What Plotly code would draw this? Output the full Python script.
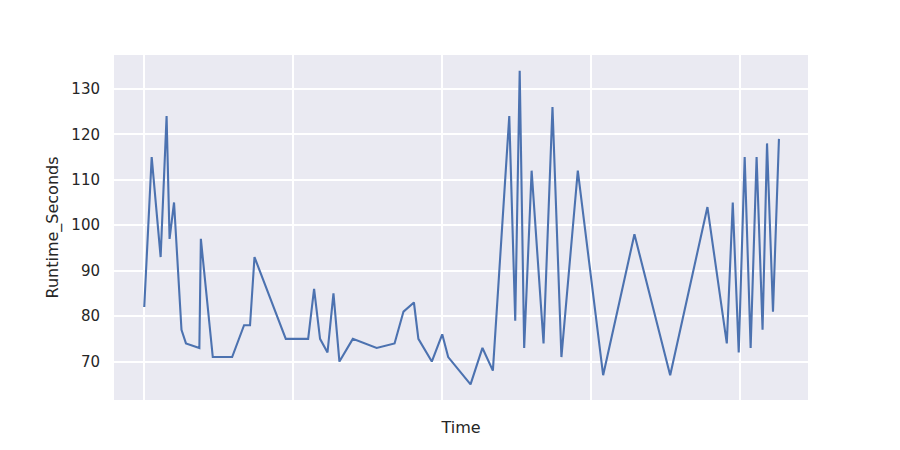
import plotly.graph_objects as go

# day offset from the first run (x axis shows no tick labels)
time_days = [0, 5, 11, 15, 17, 20, 25, 28, 37, 38,
             46, 59, 67, 71, 74, 95, 110, 114, 118, 123,
             127, 131, 140, 156, 168, 174, 181, 184, 193, 200,
             204, 219, 227, 234, 245, 249, 252, 255, 260, 268,
             274, 280, 291, 308, 329, 353, 378, 391, 395, 399,
             403, 407, 411, 415, 418, 422, 426]

runtime_seconds = [82, 115, 93, 124, 97, 105, 77, 74, 73, 97,
                   71, 71, 78, 78, 93, 75, 75, 86, 75, 72,
                   85, 70, 75, 73, 74, 81, 83, 75, 70, 76,
                   71, 65, 73, 68, 124, 79, 134, 73, 112, 74,
                   126, 71, 112, 67, 98, 67, 104, 74, 105, 72,
                   115, 73, 115, 77, 118, 81, 119]

y_ticks = [70, 80, 90, 100, 110, 120, 130]
x_grid = [0, 100, 200, 300, 400]

text_color = "#262626"

fig = go.Figure()

fig.add_trace(go.Scatter(x=time_days, y=runtime_seconds,
                         mode="lines",
                         line=dict(color="#4C72B0", width=2.1),
                         showlegend=False))

fig.update_layout(
    width=900, height=450,
    paper_bgcolor="white",
    plot_bgcolor="#EAEAF2",
    margin=dict(l=106, r=100, t=47, b=58),
    font=dict(family="DejaVu Sans", color=text_color, size=14),
)

fig.update_xaxes(
    range=[-20.3, 445.5],
    tickvals=x_grid, showticklabels=False,
    showgrid=True, gridcolor="white", gridwidth=1.5,
    zeroline=False, showline=False,
    title=dict(text="Time", font=dict(size=16), standoff=21),
)

fig.update_yaxes(
    range=[61.55, 137.45],
    tickvals=y_ticks,
    ticks="outside", ticklen=10, tickcolor="rgba(0,0,0,0)",
    tickfont=dict(size=15),
    showgrid=True, gridcolor="white", gridwidth=1.5,
    zeroline=False, showline=False,
    title=dict(text="Runtime_Seconds", font=dict(size=16), standoff=8),
)

fig.write_html("out.html")
